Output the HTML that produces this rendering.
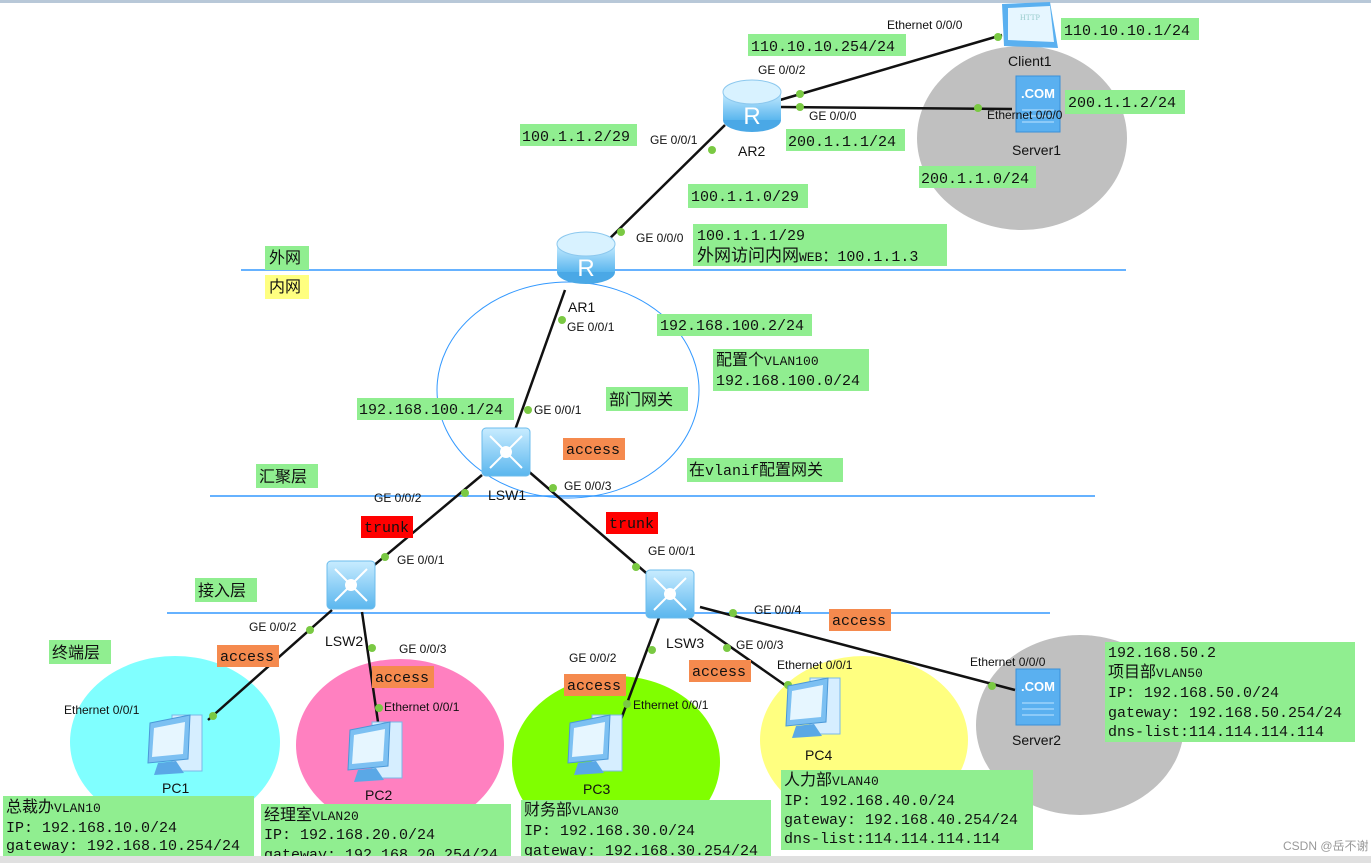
<!DOCTYPE html>
<html><head><meta charset="utf-8"><style>
body{margin:0;width:1371px;height:863px;overflow:hidden;background:#fff}
svg{display:block}
.l{font-family:"Liberation Sans",sans-serif;font-size:12px;fill:#111}
.m{font-family:"Liberation Mono","Noto Sans CJK SC",monospace;font-size:15px;fill:#111}
.c{font-family:"Liberation Sans","Noto Sans CJK SC",sans-serif;font-size:16px;fill:#111}
</style></head><body>
<svg width="1371" height="863" viewBox="0 0 1371 863" xmlns="http://www.w3.org/2000/svg">
<defs>
<linearGradient id="rg" x1="0" y1="0" x2="0" y2="1"><stop offset="0" stop-color="#c8ecff"/><stop offset="1" stop-color="#5ab6ee"/></linearGradient>
<g id="router"><ellipse cx="0" cy="20" rx="29" ry="12" fill="#4aa8e6"/><rect x="-29" y="-8" width="58" height="28" fill="url(#rg)"/><ellipse cx="0" cy="-8" rx="29" ry="12" fill="#d8f2ff" stroke="#8cc8ee"/><text x="0" y="24" text-anchor="middle" font-family="Liberation Sans" font-size="24" fill="#fff">R</text></g>
<g id="sw"><rect x="-24" y="-24" width="48" height="48" rx="4" fill="url(#rg)" stroke="#6cbcec"/><circle cx="0" cy="0" r="6" fill="#fff"/><path d="M-16 -16L16 16M16 -16L-16 16" stroke="#fff" stroke-width="2"/></g>
<g id="pc"><rect x="-8" y="-30" width="30" height="56" fill="#d6eeff" stroke="#7ab8e8"/><path d="M-30 -22L10 -30L8 14L-32 18Z" fill="#7cc0f2" stroke="#4a98d8"/><path d="M-26 -17L5 -23L3 9L-28 12Z" fill="#e6f6ff"/><path d="M-22 18L-4 16L4 28L-26 30Z" fill="#5aa8e6"/></g>
<g id="srv"><rect x="-22" y="-28" width="44" height="56" fill="#5ab0f0" stroke="#3a90d8"/><text x="0" y="-6" text-anchor="middle" font-family="Liberation Sans" font-weight="bold" font-size="13" fill="#fff">.COM</text><path d="M-16 6H16M-16 12H16M-16 18H16" stroke="#bfe4ff"/></g>
</defs>
<rect x="0" y="0" width="1371" height="3" fill="#b8c8d8"/>
<!-- areas -->
<ellipse cx="1022" cy="138" rx="105" ry="92" fill="#c0c0c0"/>
<ellipse cx="175" cy="742" rx="105" ry="86" fill="#80ffff"/>
<ellipse cx="400" cy="745" rx="104" ry="86" fill="#ff80c0"/>
<ellipse cx="616" cy="762" rx="104" ry="86" fill="#80ff00"/>
<ellipse cx="864" cy="740" rx="104" ry="84" fill="#ffff80"/>
<ellipse cx="1080" cy="725" rx="104" ry="90" fill="#c0c0c0"/>
<ellipse cx="568" cy="390" rx="131" ry="108" fill="none" stroke="#3399ff" stroke-width="1"/>
<!-- layer lines -->
<line x1="241" y1="270" x2="1126" y2="270" stroke="#3399ff" stroke-width="1.5"/>
<line x1="210" y1="496" x2="1095" y2="496" stroke="#3399ff" stroke-width="1.5"/>
<line x1="167" y1="613" x2="1050" y2="613" stroke="#3399ff" stroke-width="1.5"/>
<!-- links -->
<g stroke="#111" stroke-width="2.5" fill="none">
<line x1="780" y1="100" x2="1002" y2="35"/>
<line x1="780" y1="107" x2="1012" y2="109"/>
<line x1="725" y1="125" x2="598" y2="250"/>
<line x1="565" y1="290" x2="515" y2="430"/>
<line x1="482" y1="475" x2="366" y2="572"/>
<line x1="527" y1="470" x2="652" y2="578"/>
<line x1="332" y1="610" x2="208" y2="720"/>
<line x1="362" y1="612" x2="378" y2="722"/>
<line x1="660" y1="615" x2="620" y2="722"/>
<line x1="685" y1="615" x2="792" y2="690"/>
<line x1="700" y1="607" x2="1015" y2="690"/>
</g>
<g fill="#7ac943">
<circle cx="998" cy="37" r="4"/><circle cx="800" cy="94" r="4"/><circle cx="800" cy="107" r="4"/><circle cx="978" cy="108" r="4"/>
<circle cx="712" cy="150" r="4"/><circle cx="621" cy="232" r="4"/><circle cx="562" cy="320" r="4"/><circle cx="528" cy="410" r="4"/>
<circle cx="465" cy="493" r="4"/><circle cx="385" cy="557" r="4"/><circle cx="553" cy="488" r="4"/><circle cx="636" cy="567" r="4"/>
<circle cx="310" cy="630" r="4"/><circle cx="213" cy="716" r="4"/><circle cx="372" cy="648" r="4"/><circle cx="379" cy="708" r="4"/>
<circle cx="652" cy="650" r="4"/><circle cx="627" cy="704" r="4"/><circle cx="733" cy="613" r="4"/><circle cx="727" cy="648" r="4"/>
<circle cx="788" cy="685" r="4"/><circle cx="992" cy="686" r="4"/>
</g>
<!-- devices -->
<g transform="translate(1030,24)"><path d="M-28 -20L20 -22L28 24L-26 22Z" fill="#5ab0f0"/><path d="M-22 -16L20 -18L24 18L-22 16Z" fill="#e6f6ff"/><text x="0" y="-4" text-anchor="middle" font-family="Liberation Serif" font-size="8" fill="#9cc">HTTP</text></g>
<use href="#srv" x="1038" y="104"/>
<use href="#srv" x="1038" y="697"/>
<use href="#router" x="752" y="100"/>
<use href="#router" x="586" y="252"/>
<use href="#sw" x="506" y="452"/>
<use href="#sw" x="351" y="585"/>
<use href="#sw" x="670" y="594"/>
<use href="#pc" x="180" y="745"/>
<use href="#pc" x="380" y="752"/>
<use href="#pc" x="600" y="745"/>
<use href="#pc" x="818" y="708"/>
<!-- device labels -->
<g class="l" font-size="14">
<text x="1008" y="66" font-size="14">Client1</text>
<text x="1012" y="155" font-size="14">Server1</text>
<text x="738" y="156" font-size="14">AR2</text>
<text x="568" y="312" font-size="14">AR1</text>
<text x="488" y="500" font-size="14">LSW1</text>
<text x="325" y="646" font-size="14">LSW2</text>
<text x="666" y="648" font-size="14">LSW3</text>
<text x="162" y="793" font-size="14">PC1</text>
<text x="365" y="800" font-size="14">PC2</text>
<text x="583" y="794" font-size="14">PC3</text>
<text x="805" y="760" font-size="14">PC4</text>
<text x="1012" y="745" font-size="14">Server2</text>
</g>
<!-- port labels -->
<g class="l">
<text x="887" y="29">Ethernet 0/0/0</text><text x="758" y="74">GE 0/0/2</text><text x="809" y="120">GE 0/0/0</text>
<text x="987" y="119">Ethernet 0/0/0</text><text x="650" y="144">GE 0/0/1</text><text x="636" y="242">GE 0/0/0</text>
<text x="567" y="331">GE 0/0/1</text><text x="534" y="414">GE 0/0/1</text><text x="374" y="502">GE 0/0/2</text>
<text x="564" y="490">GE 0/0/3</text><text x="397" y="564">GE 0/0/1</text><text x="648" y="555">GE 0/0/1</text>
<text x="249" y="631">GE 0/0/2</text><text x="399" y="653">GE 0/0/3</text><text x="569" y="662">GE 0/0/2</text>
<text x="736" y="649">GE 0/0/3</text><text x="754" y="614">GE 0/0/4</text><text x="64" y="714">Ethernet 0/0/1</text>
<text x="384" y="711">Ethernet 0/0/1</text><text x="633" y="709">Ethernet 0/0/1</text><text x="777" y="669">Ethernet 0/0/1</text>
<text x="970" y="666">Ethernet 0/0/0</text>
</g>
<!-- green boxes -->
<g fill="#90ee90">
<rect x="748" y="34" width="158" height="22"/><rect x="1061" y="18" width="138" height="22"/><rect x="1065" y="90" width="120" height="24"/>
<rect x="520" y="124" width="117" height="22"/><rect x="786" y="129" width="119" height="22"/><rect x="919" y="166" width="117" height="22"/>
<rect x="688" y="184" width="120" height="24"/><rect x="693" y="224" width="254" height="42"/><rect x="265" y="246" width="44" height="24"/>
<rect x="657" y="314" width="155" height="22"/><rect x="713" y="349" width="156" height="42"/><rect x="357" y="398" width="157" height="22"/>
<rect x="606" y="387" width="82" height="24"/><rect x="687" y="458" width="156" height="24"/><rect x="256" y="464" width="62" height="24"/>
<rect x="195" y="578" width="62" height="24"/><rect x="49" y="640" width="62" height="24"/>
<rect x="3" y="796" width="251" height="60"/><rect x="261" y="804" width="250" height="52"/><rect x="521" y="800" width="250" height="56"/>
<rect x="781" y="770" width="252" height="80"/><rect x="1105" y="642" width="250" height="100"/>
</g>
<rect x="265" y="275" width="44" height="24" fill="#ffff80"/>
<g fill="#f58a4e">
<rect x="563" y="438" width="62" height="22"/><rect x="217" y="645" width="62" height="22"/><rect x="372" y="666" width="62" height="22"/>
<rect x="564" y="674" width="62" height="22"/><rect x="689" y="660" width="62" height="22"/><rect x="829" y="609" width="62" height="22"/>
</g>
<g fill="#ff0000"><rect x="361" y="516" width="52" height="22"/><rect x="606" y="512" width="52" height="22"/></g>
<g class="m">
<text x="751" y="51">110.10.10.254/24</text><text x="1064" y="35">110.10.10.1/24</text><text x="1068" y="107">200.1.1.2/24</text>
<text x="522" y="141">100.1.1.2/29</text><text x="788" y="146">200.1.1.1/24</text><text x="921" y="183">200.1.1.0/24</text>
<text x="691" y="201">100.1.1.0/29</text><text x="697" y="240">100.1.1.1/29</text>
<text x="697" y="261"><tspan font-size="17">外网访问内网</tspan><tspan font-size="13">WEB</tspan>：100.1.1.3</text>
<text x="269" y="263" class="c">外网</text><text x="269" y="292" class="c">内网</text>
<text x="660" y="330">192.168.100.2/24</text>
<text x="716" y="365"><tspan font-size="16">配置个</tspan><tspan font-size="13">VLAN100</tspan></text><text x="716" y="385">192.168.100.0/24</text>
<text x="359" y="414">192.168.100.1/24</text><text x="609" y="405" class="c">部门网关</text>
<text x="689" y="475"><tspan font-size="16">在</tspan>vlanif<tspan font-size="16">配置网关</tspan></text>
<text x="259" y="482" class="c">汇聚层</text><text x="198" y="596" class="c">接入层</text><text x="52" y="658" class="c">终端层</text>
<text x="566" y="454">access</text><text x="220" y="661">access</text><text x="375" y="682">access</text>
<text x="567" y="690">access</text><text x="692" y="676">access</text><text x="832" y="625">access</text>
<text x="364" y="532" fill="#111">trunk</text><text x="609" y="528">trunk</text>
<text x="6" y="812"><tspan font-size="16">总裁办</tspan><tspan font-size="13">VLAN10</tspan></text>
<text x="6" y="832">IP: 192.168.10.0/24</text><text x="6" y="850">gateway: 192.168.10.254/24</text>
<text x="264" y="820"><tspan font-size="16">经理室</tspan><tspan font-size="13">VLAN20</tspan></text>
<text x="264" y="839">IP: 192.168.20.0/24</text><text x="264" y="859">gateway: 192.168.20.254/24</text>
<text x="524" y="815"><tspan font-size="16">财务部</tspan><tspan font-size="13">VLAN30</tspan></text>
<text x="524" y="835">IP: 192.168.30.0/24</text><text x="524" y="855">gateway: 192.168.30.254/24</text>
<text x="784" y="785"><tspan font-size="16">人力部</tspan><tspan font-size="13">VLAN40</tspan></text>
<text x="784" y="805">IP: 192.168.40.0/24</text><text x="784" y="824">gateway: 192.168.40.254/24</text><text x="784" y="843">dns-list:114.114.114.114</text>
<text x="1108" y="657">192.168.50.2</text>
<text x="1108" y="677"><tspan font-size="16">项目部</tspan><tspan font-size="13">VLAN50</tspan></text>
<text x="1108" y="697">IP: 192.168.50.0/24</text><text x="1108" y="717">gateway: 192.168.50.254/24</text><text x="1108" y="736">dns-list:114.114.114.114</text>
</g>
<rect x="0" y="856" width="1371" height="7" fill="#e0e0e0"/>
<text x="1283" y="850" font-family="Liberation Sans,Noto Sans CJK SC,sans-serif" font-size="12" fill="#999">CSDN @岳不谢</text>
</svg>
</body></html>
